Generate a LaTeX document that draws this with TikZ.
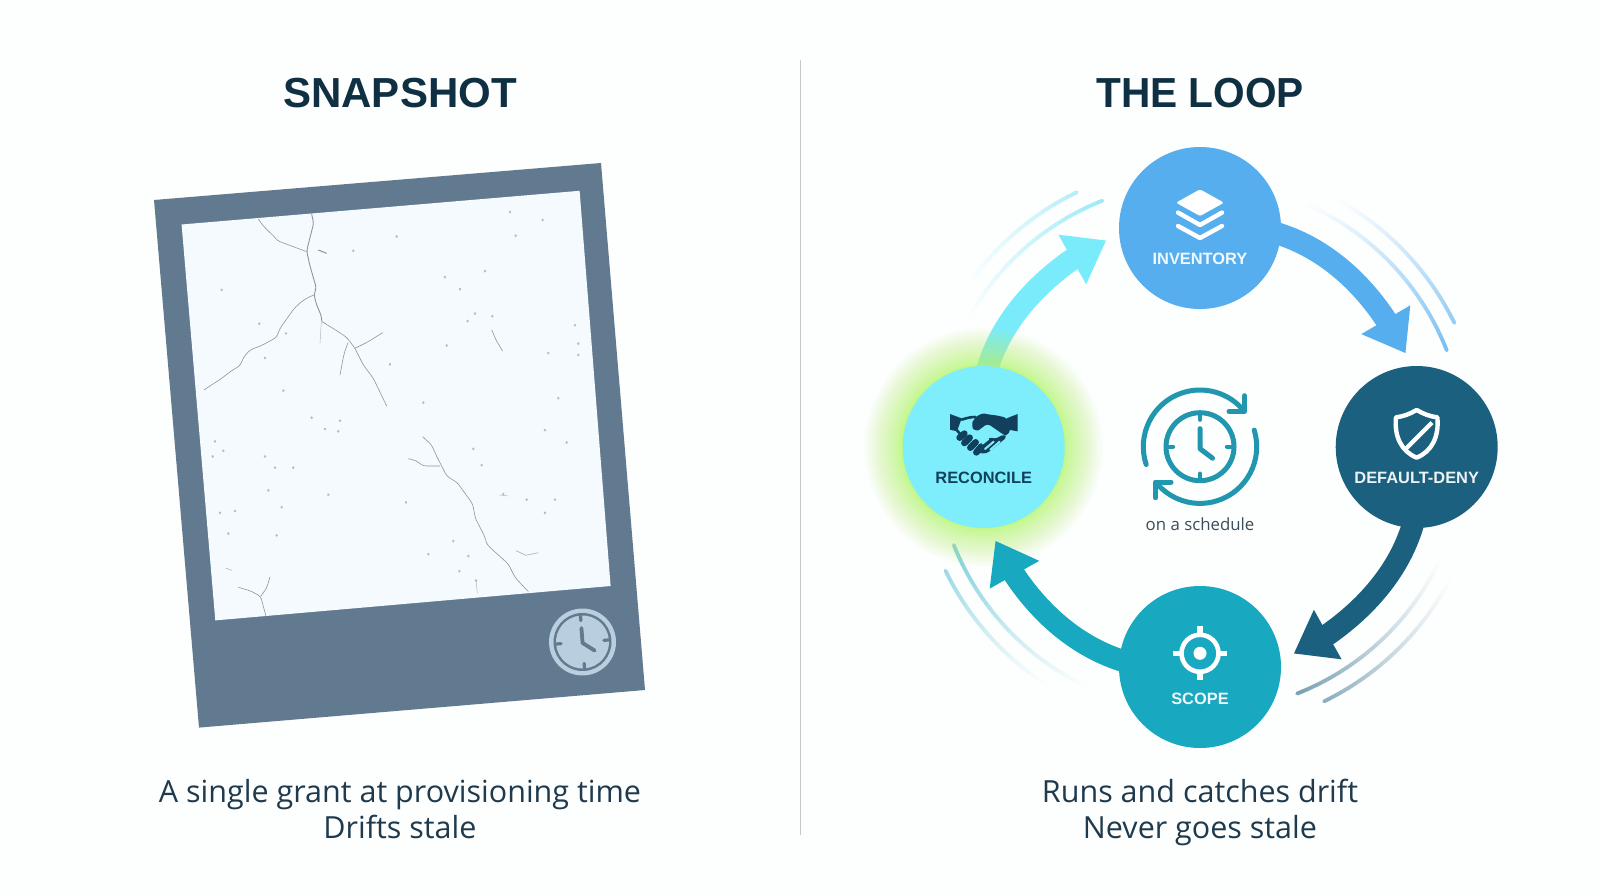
\documentclass[tikz,border=0pt]{standalone}
\usepackage{fontspec}
\setmainfont{Open Sans}
\newfontfamily\headfont{Liberation Sans}
\usetikzlibrary{arrows.meta,calc,positioning}
\pgfdeclarelayer{back}
\pgfsetlayers{back,main}
\definecolor{pagebg}{HTML}{FDFEFE}
\definecolor{ink}{HTML}{0F2F42}
\definecolor{bodyink}{HTML}{1F3A4D}
\definecolor{framec}{HTML}{627A8F}
\definecolor{paperc}{HTML}{F5FAFE}
\definecolor{crackc}{HTML}{8A96A2}
\definecolor{invc}{HTML}{56AEEE}
\definecolor{denyc}{HTML}{1B607F}
\definecolor{scopec}{HTML}{18A8BF}
\definecolor{recc}{HTML}{7EEEFC}
\definecolor{recink}{HTML}{12405C}
\definecolor{halo}{HTML}{BDF77A}
\definecolor{clockc}{HTML}{2196AF}
\definecolor{badgec}{HTML}{B9CEDF}
\definecolor{capc}{HTML}{3A4D5C}
\tikzset{
  stage/.style={circle,minimum size=162pt,inner sep=0pt,draw=none},
  tag/.style={font=\headfont\bfseries\fontsize{16.4}{20}\selectfont,inner sep=0pt,anchor=center},
  headline/.style={font=\headfont\bfseries\fontsize{42}{50}\selectfont,text=ink,inner sep=0pt},
  caption/.style={font=\fontsize{30.5}{35}\selectfont,text=bodyink,inner sep=0pt,anchor=base},
  flow/.style={line width=22pt,-{Triangle[length=39pt,width=54pt]}},
  crack/.style={draw=crackc,line width=.6pt,line join=round,rounded corners=3pt},
  fine/.style={draw=crackc!70!white,line width=.45pt},
  icon/.style={draw=white,line width=4.4pt,line cap=round,line join=round},
}
% Faded arc around the loop centre: radius, faint angle, strong angle, colour, strongest tint
\newcommand{\sweepline}[5]{%
  \foreach \k in {1,...,40}{%
    \pgfmathsetmacro\aa{#2+(#3-#2)*(\k-1)/40}%
    \pgfmathsetmacro\ab{#2+(#3-#2)*\k/40}%
    \pgfmathsetmacro\tint{#5*pow(\k/40,1.3)}%
    \draw[color=#4!\tint!white,line width=3.8pt,line cap=round]
      ({1200+#1*cos(\aa)},{447-#1*sin(\aa)}) -- ({1200+#1*cos(\ab)},{447-#1*sin(\ab)});
  }%
}
\begin{document}
\begin{tikzpicture}[x=1pt,y=-1pt]
\useasboundingbox (0,0) rectangle (1600,894);
\begin{pgfonlayer}{back}
  \fill[pagebg] (0,0) rectangle (1600,894);
\end{pgfonlayer}

% Divider
\coordinate (dividerTop) at (800,60);
\coordinate (dividerEnd) at (800,835);
\draw[color=black!22,line width=1pt] (dividerTop) -- (dividerEnd);

% Headings and captions
\node[headline] (snapTitle) at (400,93) {SNAPSHOT};
\node[headline] (loopTitle) at (1200,93) {\scalebox{.967}[1]{THE LOOP}};
\node[caption] (snapOne) at (400,802.5) {A single grant at provisioning time};
\node[caption] (snapTwo) at (400,838) {Drifts stale};
\node[caption] (loopOne) at (1200,802.5) {Runs and catches drift};
\node[caption] (loopTwo) at (1200,838) {Never goes stale};

% Photo frame and its paper
\fill[framec] (154,200) -- (601,163) -- (645,690) -- (199,727.6) -- cycle;
\fill[paperc] (181.6,224.5) -- (579.6,190.8) -- (610.6,586) -- (215.3,620.4) -- cycle;

\begin{scope}
  \clip (181.6,224.5) -- (579.6,190.8) -- (610.6,586) -- (215.3,620.4) -- cycle;
  % Upper cracks
  \begin{scope}[shift={(190,200)},x=.3333pt,y=-.3333pt]
    \draw[crack] (205,57) .. controls (222,85) and (245,100) .. (262,122) -- (310,140) -- (350,155);
    \draw[crack,line width=.9pt] (365,42) -- (371,70) -- (362,105) -- (350,152) -- (358,190) -- (372,240) -- (379,262) -- (372,285) -- (380,315) -- (393,345) -- (396,365);
    \draw[crack] (372,285) .. controls (335,298) and (312,325) .. (295,350) -- (270,385) -- (260,412) -- (218,435) -- (180,450) -- (162,470) -- (150,497) -- (125,512) -- (95,535) -- (42,570);
    \draw[crack] (396,365) -- (440,392) -- (470,412) -- (495,445) -- (520,495) -- (550,535) -- (590,618);
    \draw[crack] (474,428) -- (462,462) -- (450,525);
    \draw[crack] (495,445) -- (535,425) -- (578,398);
    \draw[fine] (394,365) -- (390,430);
    \draw[crack,line width=1pt] (385,150) -- (410,160);
  \end{scope}
  % Lower cracks
  \begin{scope}[shift={(400,430)},x=.3333pt,y=-.3333pt]
    \draw[crack] (68,20) -- (95,45) -- (108,75) -- (125,108) -- (140,138) -- (172,158) -- (195,190) -- (218,222) -- (226,265) -- (252,315) -- (262,345) -- (295,375) -- (325,402) -- (345,442) -- (385,485);
    \draw[crack] (25,86) -- (48,92) -- (70,108) -- (120,108);
    \draw[fine,line width=.7pt] (348,362) -- (378,376) -- (415,368);
    \draw[fine] (228,450) -- (232,490);
    \draw[fine] (298,195) -- (325,198);
  \end{scope}
  % Lower-left cracks and the scattered flecks
  \begin{scope}[shift={(140,150)},x=.3333pt,y=-.376pt]
    \draw[fine,line width=.6pt] (258,1112) -- (275,1118);
    \draw[crack] (295,1163) -- (330,1172) -- (362,1187) -- (378,1240);
    \draw[crack] (390,1135) -- (380,1165) -- (362,1187);
    \draw[crack] (1055,478) -- (1068,505) -- (1088,535);
    \foreach \px/\py in {1110/165,1208/186,1127/228,770/230,1005/435,1057/442,983/455,960/370,915/338,1035/322,
      1315/515,1315/545,1255/660,1215/745,1280/778,750/570,430/640,555/742,595/748,285/960,385/905,425/950,410/1025,
      250/800,225/775,218/815,375/815,245/372,358/462,438/488,375/553,640/268,1305/466,1225/540,850/672,920/520,
      1000/795,1025/838,1245/930,1215/965,985/1080,865/1075,958/1120,1008/1145,940/1040,600/720,515/712,565/917,798/937,
      460/845,405/845,265/1020,240/965,1160/930,1090/915}
      \fill[crackc,opacity=.6] (\px,\py) circle[radius=4];
  \end{scope}
\end{scope}

% Clock badge on the frame
\begin{scope}[shift={(582.5,642)},rotate=4.4,x=1pt,y=1pt]
  \fill[badgec] (0,0) circle[radius=33.5pt];
  \fill[framec] (0,0) circle[radius=29pt];
  \fill[badgec] (0,0) circle[radius=26.5pt];
  \foreach \t in {0,90,180,270}
    \draw[framec,line width=3.2pt,line cap=round] (\t:26pt) -- (\t:21.5pt);
  \draw[framec,line width=3.8pt,line cap=round,line join=round] (0,14pt) -- (0,-1pt) -- (11.5pt,-9.5pt);
\end{scope}

% Loop stations
\coordinate (loopc) at (1200,447);
\node[stage,fill=invc] (inventory) at (1200,228) {};
\node[stage,fill=denyc] (deny) at (1416.7,447) {};
\node[stage,fill=scopec] (scopeStage) at (1200,667) {};
\node[stage,fill=recc] (reconcile) at (983.7,447) {};
\node[tag,text=white!92!invc] (inventoryTag) at (1200,259) {INVENTORY};
\node[tag,text=white!92!denyc] (denyTag) at (1416.7,478) {DEFAULT-DENY};
\node[tag,text=white!92!scopec] (scopeTag) at (1200,698.5) {SCOPE};
\node[tag,text=recink] (reconcileTag) at (983.7,477.7) {RECONCILE};

% Each shaft bends up to the base of its head, and the head runs straight to its tip
\coordinate (baseA) at (1385,318.3);
\coordinate (tipA) at (1405.6,353.3);
\coordinate (baseB) at (1328.7,634);
\coordinate (tipB) at (1293.7,653.6);
\coordinate (baseC) at (1015,575.7);
\coordinate (tipC) at (995.4,540.7);
\coordinate (baseD) at (1071.3,260);
\coordinate (tipD) at (1106.3,240.4);

\begin{pgfonlayer}{back}
  \sweepline{283}{62.7}{26}{invc}{62}
  \sweepline{265}{67.8}{21.4}{invc}{78}
  \sweepline{265}{-24}{-68.5}{denyc}{58}
  \sweepline{283}{-27}{-64}{denyc}{50}
  \sweepline{265}{246.4}{201.7}{scopec}{55}
  \sweepline{283}{238.6}{205.9}{scopec}{42}
  \sweepline{265}{154.4}{111.6}{recc!80!scopec}{65}
  \sweepline{283}{147.4}{115.8}{recc!80!scopec}{50}

  \draw[flow,color=recc!96!scopec] (reconcile.center) .. controls (969,367) and (1010.5,303) .. (baseD) -- (tipD);
  \foreach \k in {1,...,40}{
    \pgfmathsetmacro\rr{81+38*pow(\k/40,2.6)}
    \fill[halo,opacity=.05] (reconcile) circle[radius=\rr];
  }
  \draw[flow,color=invc] (inventory.center) .. controls (1280,216) and (1344,257.5) .. (baseA) -- (tipA);
  \draw[flow,color=denyc] (deny.center) .. controls (1431,527) and (1389.5,591) .. (baseB) -- (tipB);
  \draw[flow,color=scopec] (scopeStage.center) .. controls (1120,678) and (1056,636.5) .. (baseC) -- (tipC);
\end{pgfonlayer}

% Stacked layers
\fill[white,rounded corners=1.5pt] (1200,189.3) -- (1224,202.7) -- (1200,216) -- (1176,202.7) -- cycle;
\draw[white,line width=4.4pt,line cap=round,line join=round] (1178,212.6) -- (1200,225) -- (1222,212.6);
\draw[white,line width=4.4pt,line cap=round,line join=round] (1178,226) -- (1200,238) -- (1222,226);

% Shield with a slash
\begin{scope}[shift={(1180,130)},x=.3333pt,y=-.3333pt]
  \draw[icon] (710,840) .. controls (730,852) and (752,860) .. (772,862)
    .. controls (778,920) and (755,965) .. (710,983)
    .. controls (665,965) and (642,920) .. (648,862)
    .. controls (668,860) and (690,852) .. (710,840) -- cycle;
  \draw[icon,line cap=butt] (677,957) -- (756,878);
\end{scope}

% Crosshair
\draw[white,line width=4.6pt] (1200,653.3) circle[radius=18.5];
\fill[white] (1200,653.3) circle[radius=6.5];
\foreach \dx/\dy in {0/-1,1/0,0/1,-1/0}
  \draw[white,line width=5.5pt] ({1200+18*\dx},{653.3+18*\dy}) -- ({1200+27*\dx},{653.3+27*\dy});

% Handshake
\begin{scope}[shift={(945,405)},x=.3333pt,y=-.3333pt]
  \fill[recink] (15,27) -- (50,40) -- (36,79) -- (15,74) -- cycle;
  \fill[recink] (218,27) -- (218,79) -- (196,75) -- (185,40) -- cycle;
  \draw[recink,line width=2.6pt,line cap=round] (50,44) .. controls (62,40) and (75,36) .. (90,36);
  \draw[recink,line width=2.6pt,line cap=round] (36,76) -- (48,90);
  \fill[recink,rounded corners=3pt] (92,40) .. controls (102,28) and (115,25) .. (128,28) -- (160,32) -- (186,39)
     -- (197,76) -- (183,94) -- (128,56) -- (108,70) .. controls (98,78) and (83,74) .. (82,60) .. controls (82,52) and (86,46) .. (92,40) -- cycle;
  % Fingers of the lower hand
  \fill[recink,rounded corners=3pt] (100,144) -- (124,146) -- (160,118) -- (186,96) -- (176,88) -- (150,102) -- (132,96) -- (124,110) -- (108,120) -- cycle;
  \foreach \xa/\ya/\xb/\yb in {44/98/58/86,58/114/74/98,76/128/92/112,94/142/110/124}
    \draw[recink,line width=6.6pt,line cap=round] (\xa,\ya) -- (\xb,\yb);
  \draw[recc,line width=2pt,line cap=round] (120,132) -- (146,110);
  \draw[recc,line width=2pt,line cap=round] (136,134) -- (164,110);
  \draw[recc,line width=2pt,line cap=round] (112,116) -- (130,102);
\end{scope}

% Schedule emblem in the middle of the loop
\begin{scope}[shift={(1200,446.7)},x=1pt,y=1pt]
  \draw[clockc,line width=5pt] (0,0) circle[radius=34pt];
  \foreach \t in {0,90,180,270}
    \draw[clockc,line width=4.4pt,line cap=round] (\t:33pt) -- (\t:27pt);
  \draw[clockc,line width=5pt,line cap=round,line join=round] (0,18pt) -- (0,-2pt) -- (12.5pt,-11.5pt);
  \draw[clockc,line width=5pt,line cap=round] (198.3:56.7pt) arc[start angle=198.3,end angle=39,radius=56.7pt];
  \draw[clockc,line width=5pt,line cap=round,line join=round] (44.5pt,51pt) -- (44.5pt,35.3pt) -- (29pt,35.3pt);
  \draw[clockc,line width=5pt,line cap=round] (17:56.7pt) arc[start angle=17,end angle=-136,radius=56.7pt];
  \draw[clockc,line width=5pt,line cap=round,line join=round] (-44.5pt,-51pt) -- (-44.5pt,-35.3pt) -- (-29pt,-35.3pt);
\end{scope}
\node[font=\fontsize{16.8}{20}\selectfont,text=capc,inner sep=0pt] (scheduleNote) at (1200,524) {on a schedule};
\end{tikzpicture}
\end{document}
